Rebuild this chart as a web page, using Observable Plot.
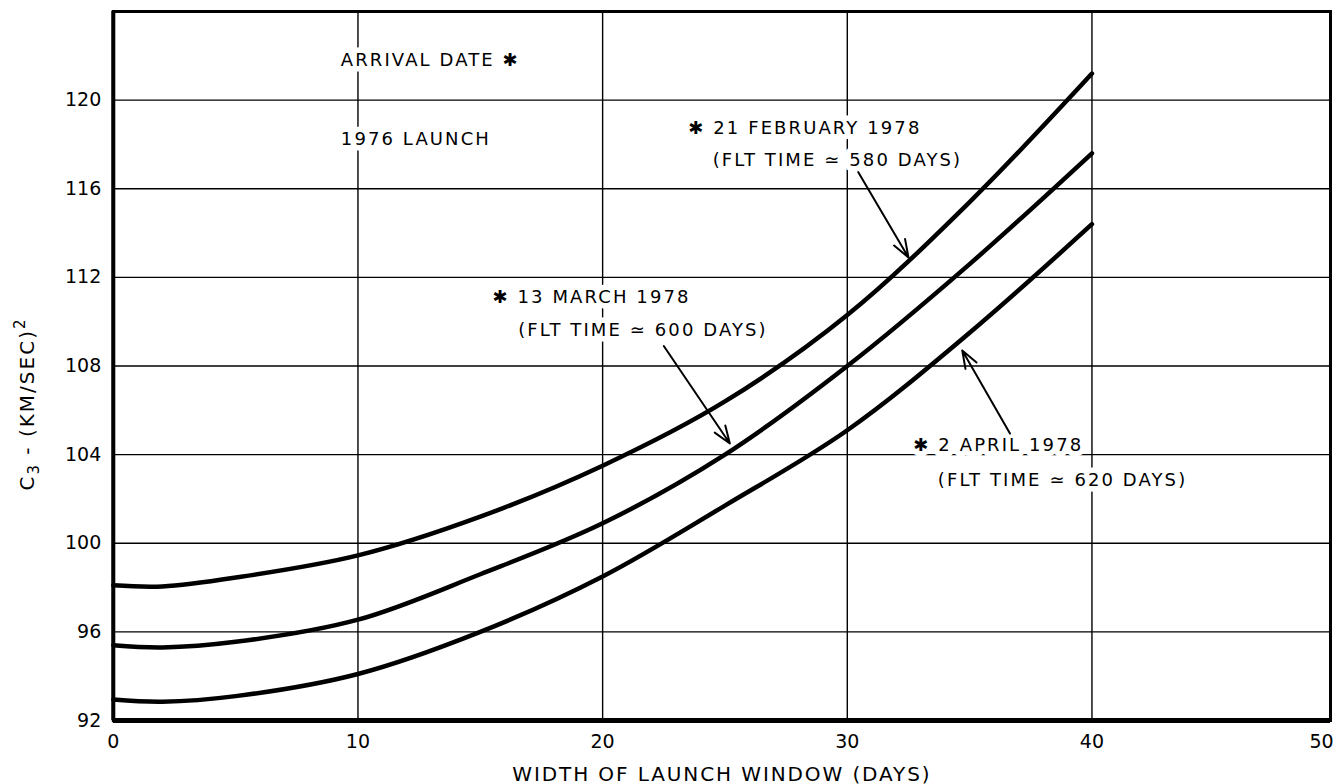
<!DOCTYPE html>
<html><head><meta charset="utf-8">
<script src="https://cdn.jsdelivr.net/npm/d3@7"></script>
<script src="https://cdn.jsdelivr.net/npm/@observablehq/plot@0.6"></script>
<style>
html,body{margin:0;padding:0;background:#fff;overflow:hidden;}
.notes text{letter-spacing:2.1px;}
.xlab text{letter-spacing:1.9px;}
.ylab text{letter-spacing:2px;}
</style></head><body><div id="chart"></div>
<script>
// Width of launch window (days)
const windowDays = [0, 2, 5, 10, 15, 20, 25, 30, 35, 40];
// C3 (km/s)^2 for each arrival date
const c3Feb21 = [98.1, 98.05, 98.45, 99.45, 101.2, 103.5, 106.4, 110.3, 115.4, 121.2];
const c3Mar13 = [95.4, 95.3, 95.55, 96.55, 98.6, 100.9, 104.0, 108.0, 112.6, 117.6];
const c3Apr2  = [92.95, 92.85, 93.1, 94.1, 96.0, 98.5, 101.7, 105.1, 109.5, 114.4];
const seriesNames = ["21 FEBRUARY 1978", "13 MARCH 1978", "2 APRIL 1978"];

const xTicks = [0, 10, 20, 30, 40];
const xTickLast = [50];
const yTicks = [92, 96, 100, 104, 108, 112, 116, 120];
const xGrid = [10, 20, 30, 40];
const yGrid = [96, 100, 104, 108, 112, 116, 120];

const xLabel = "WIDTH OF LAUNCH WINDOW (DAYS)";
const yLabel = ["C", "3", " - (KM/SEC)", "2"];

// annotation texts (anchored in data units)
const noteText = ["ARRIVAL DATE \u2731", "1976 LAUNCH",
  "\u2731 21 FEBRUARY 1978", "(FLT TIME \u2243 580 DAYS)",
  "\u2731 13 MARCH 1978", "(FLT TIME \u2243 600 DAYS)",
  "\u2731 2 APRIL 1978", "(FLT TIME \u2243 620 DAYS)"];
const noteX = [9.3, 9.3, 23.5, 24.5, 15.5, 16.55, 32.7, 33.7];
const noteY = [121.8, 118.25, 118.75, 117.3, 111.1, 109.6, 104.42, 102.85];

// leader arrows: tail -> head
const arrowX1 = [30.45, 22.5, 36.65];
const arrowY1 = [116.75, 108.9, 104.95];
const arrowX2 = [32.5, 25.2, 34.7];
const arrowY2 = [112.9, 104.5, 108.7];

const curves = [];
[c3Feb21, c3Mar13, c3Apr2].forEach((vals, k) =>
  vals.forEach((v, i) => curves.push({series: seriesNames[k], days: windowDays[i], c3: v})));
const notes = noteText.map((t, i) => ({t, x: noteX[i], y: noteY[i]}));
const arrows = arrowX1.map((x1, i) => ({x1, y1: arrowY1[i], x2: arrowX2[i], y2: arrowY2[i]}));

const font = "'DejaVu Sans', sans-serif";

const chart = Plot.plot({
  width: 1333,
  height: 784,
  marginLeft: 112.8,
  marginRight: 3,
  marginTop: 11,
  marginBottom: 64,
  style: {fontFamily: font, fontSize: "19px", background: "white", color: "black"},
  x: {domain: [0, 49.75], label: null},
  y: {domain: [92, 124], label: null},
  marks: [
    Plot.ruleX(xGrid, {stroke: "black", strokeWidth: 1.4}),
    Plot.ruleY(yGrid, {stroke: "black", strokeWidth: 1.4}),
    Plot.text(notes, {x: "x", y: "y", text: "t", textAnchor: "start", fontSize: 18,
      fill: "black", stroke: "white", strokeWidth: 11, strokeLinejoin: "round",
      paintOrder: "stroke", className: "notes"}),
    Plot.line(curves, {x: "days", y: "c3", z: "series", curve: "catmull-rom",
      stroke: "black", strokeWidth: 4.5}),
    Plot.arrow(arrows, {x1: "x1", y1: "y1", x2: "x2", y2: "y2", stroke: "black",
      strokeWidth: 2, headLength: 14, headAngle: 40}),
    Plot.frame({stroke: "black", strokeWidth: 3}),
    Plot.ruleX([0], {stroke: "black", strokeWidth: 4}),
    Plot.ruleY([92], {stroke: "black", strokeWidth: 5}),
    Plot.axisY(yTicks, {tickSize: 0, tickPadding: 12, fontSize: 19, label: null}),
    Plot.axisX(xTicks, {tickSize: 0, tickPadding: 14, fontSize: 19, label: null}),
    Plot.axisX(xTickLast, {tickSize: 0, tickPadding: 14, fontSize: 19, label: null, dx: -15}),
    Plot.text([xLabel], {frameAnchor: "bottom", dy: 60, fontSize: 20, className: "xlab"}),
    Plot.text([yLabel.join("")], {frameAnchor: "left", textAnchor: "middle", dx: -86, dy: 38, rotate: -90,
      fontSize: 20, className: "ylab"})
  ]
});
document.getElementById("chart").appendChild(chart);

// rich formatting of the y label (subscript 3, superscript 2)
d3.select(chart).selectAll(".ylab text").each(function () {
  const t = d3.select(this);
  t.text(null);
  t.append("tspan").text(yLabel[0]);
  t.append("tspan").attr("font-size", 15).attr("dy", "5").text(yLabel[1]);
  t.append("tspan").attr("dy", "-5").text(yLabel[2]);
  t.append("tspan").attr("font-size", 15).attr("dy", "-9").text(yLabel[3]);
});
</script>
</body></html>
